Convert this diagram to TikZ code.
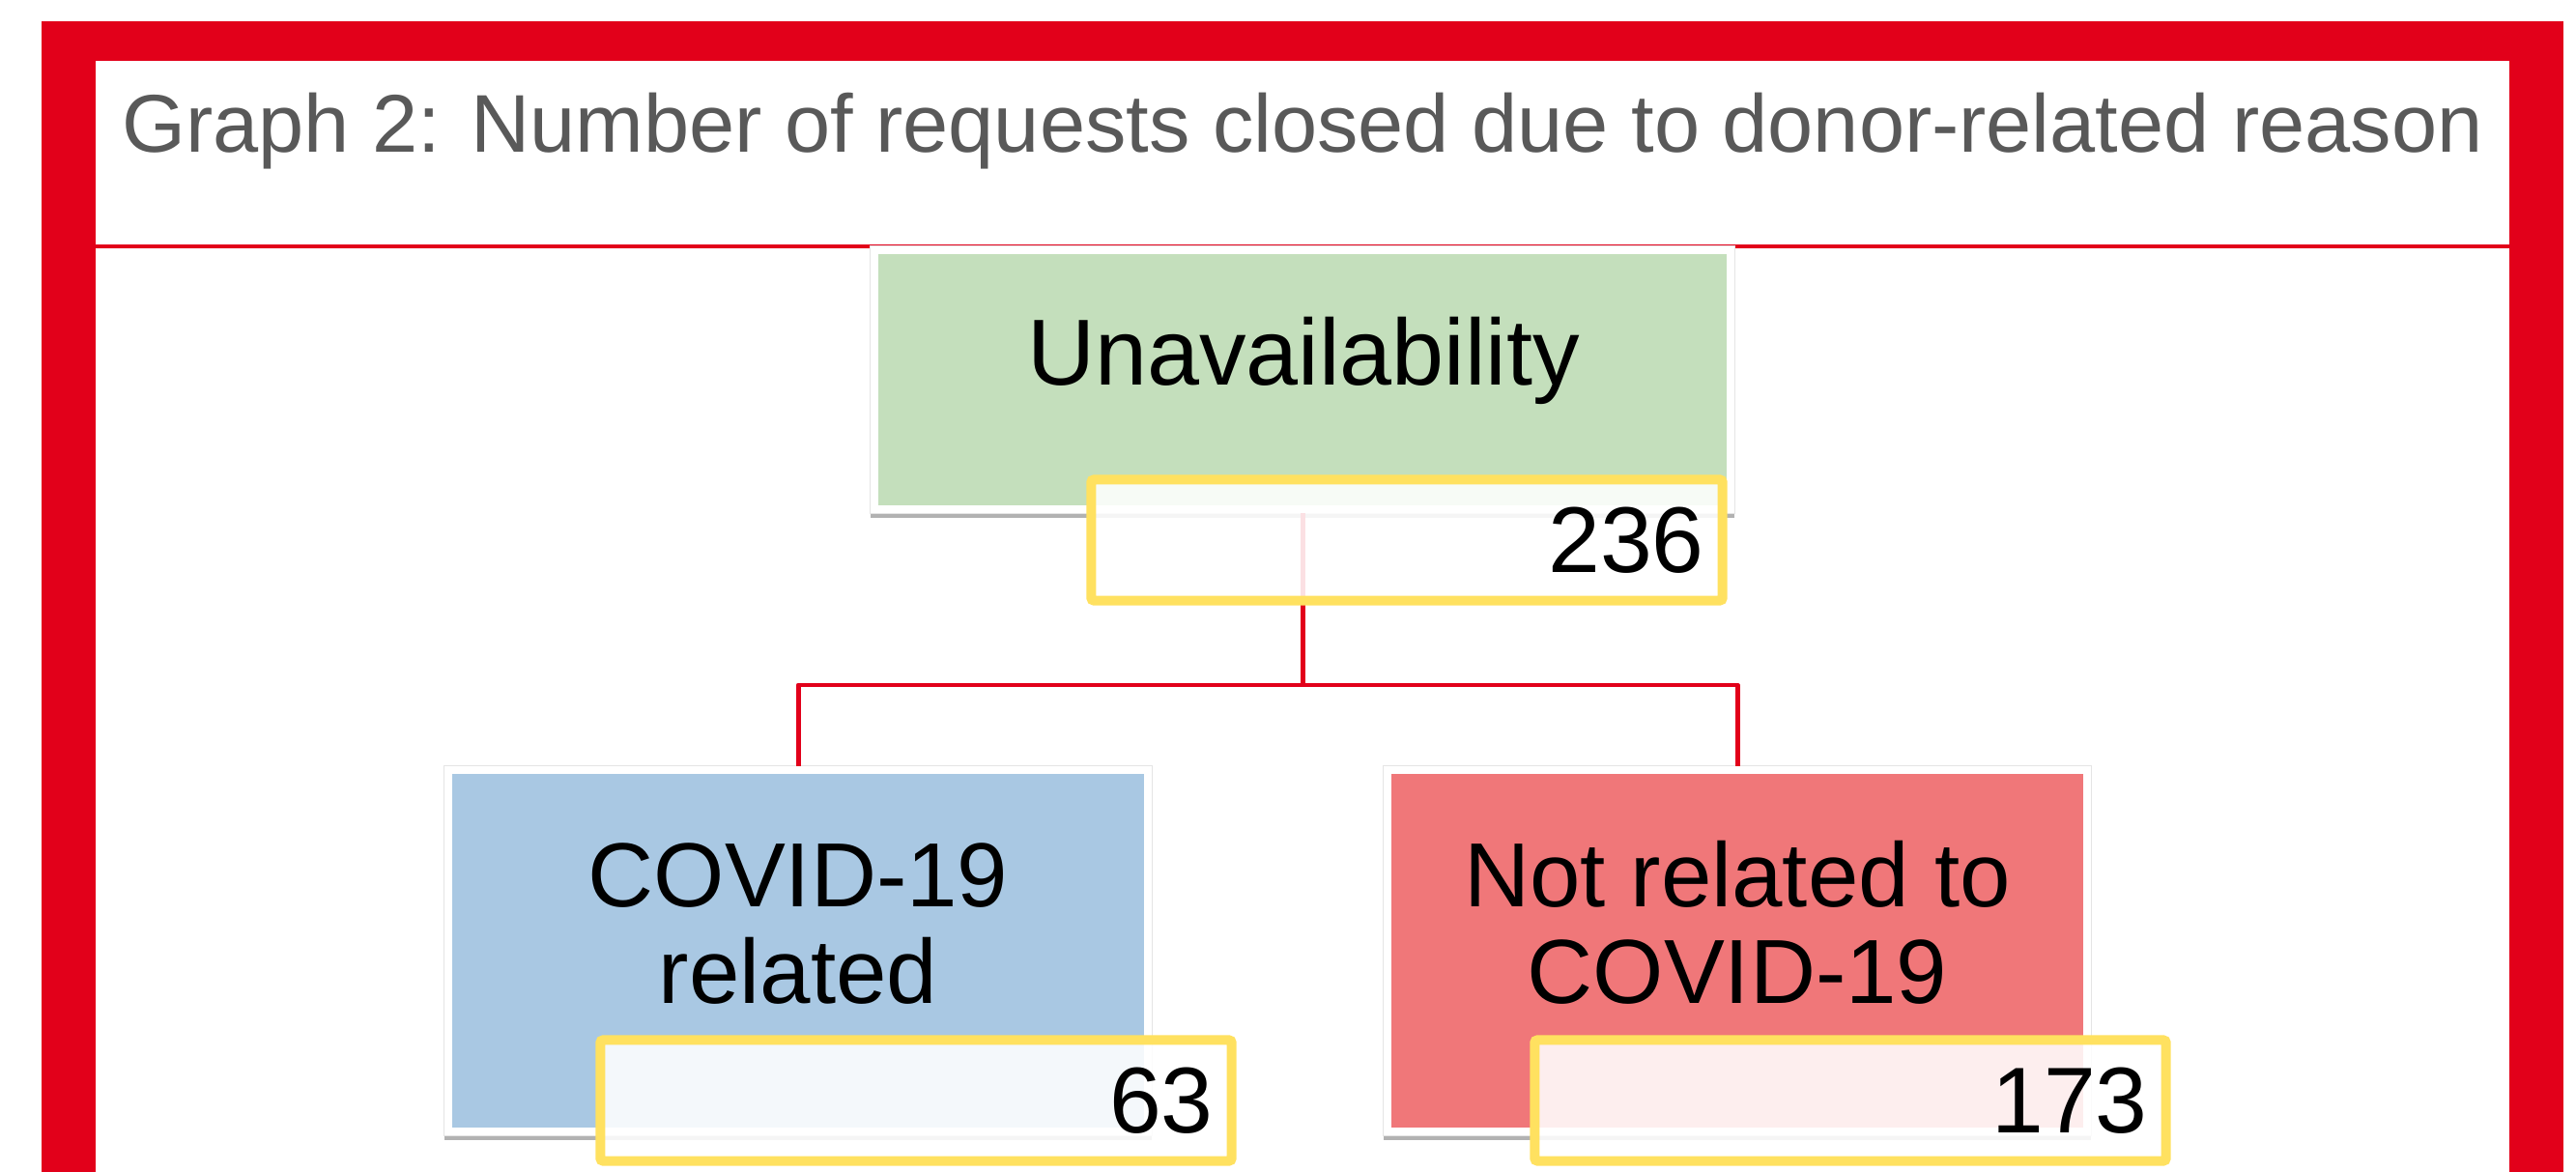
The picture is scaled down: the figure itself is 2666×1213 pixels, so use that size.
\documentclass[tikz,border=0pt]{standalone}
\usepackage{fontspec}
\setmainfont{Liberation Sans}
\usepackage{tikz}

\definecolor{framered}{HTML}{E2001A}
\definecolor{titlegray}{HTML}{595959}
\definecolor{unavgreen}{HTML}{C4DFBC}
\definecolor{covidblue}{HTML}{A9C8E3}
\definecolor{otherpink}{HTML}{F07779}
\definecolor{numyellow}{HTML}{FFE160}

\begin{document}
\begin{tikzpicture}[x=0.01cm,y=-0.01cm,
  catbox/.style={rectangle, draw=white, line width=2.28pt, inner sep=0pt,
    preaction={draw=black!30, line width=2.28pt, transform canvas={yshift=-1.3pt}},
    preaction={draw=black!10, line width=2.7pt}},
  numbox/.style={rectangle, draw=numyellow, line width=2.85pt, rounded corners=0.8pt,
    fill=white, fill opacity=0.88, text opacity=1, text width=6.15cm, align=right,
    inner xsep=0.19cm, inner ysep=0pt, minimum height=1.25cm,
    font=\fontsize{27.5}{30}\selectfont},
  conn/.style={framered, line width=1.42pt, line join=round},
  labeltext/.style={align=center, inner sep=0pt, font=\fontsize{26.8}{28.2}\selectfont}]
\useasboundingbox (0,0) rectangle (2666,1213);
% frame and title
\fill[framered] (43,22) rectangle (2653,1213);
\fill[white] (99,63) rectangle (2597,1213);
\draw[framered, line width=1.14pt] (99,255) -- (2597,255);
\node[anchor=base, inner sep=0pt, text=titlegray, font=\fontsize{24.1}{29}\selectfont] (title) at (1348,158)
  {Graph 2: Number of requests closed due to donor-related reason};
% category boxes
\node[catbox, fill=unavgreen, minimum width=8.86cm, minimum height=2.68cm] (unav) at (1348,393) {};
\node[catbox, fill=covidblue, minimum width=7.24cm, minimum height=3.74cm] (covid) at (826,984) {};
\node[catbox, fill=otherpink, minimum width=7.24cm, minimum height=3.74cm] (other) at (1798,984) {};
\node[labeltext, anchor=base, font=\fontsize{27.6}{30}\selectfont] at (1349,399) {Unavailability};
\node[labeltext, anchor=base] at (826,1038) {COVID-19\\related};
\node[labeltext, anchor=base] at (1798,1038) {Not related to\\COVID-19};
% connectors
\coordinate (fork) at (1348,709);
\draw[conn] (unav.south) -- (fork) -| (covid.north);
\draw[conn] (fork) -| (other.north);
% counts
\node[numbox] (n236) at (1456,559) {236};
\node[numbox] (n63) at (948,1139) {63};
\node[numbox] (n173) at (1915,1139) {173};
\end{tikzpicture}
\end{document}
